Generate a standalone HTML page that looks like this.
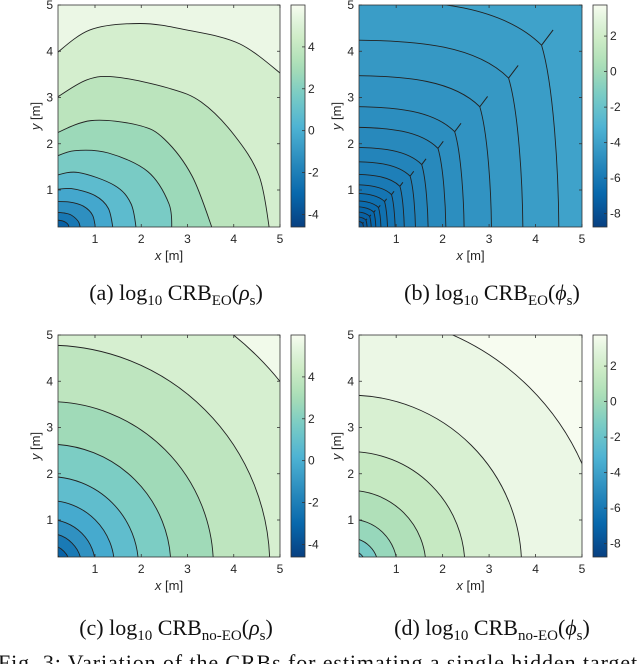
<!DOCTYPE html>
<html><head><meta charset="utf-8">
<style>
html,body{margin:0;padding:0;background:#fff;}
#wrap{position:relative;width:640px;height:664px;overflow:hidden;}
svg{position:absolute;left:0;top:0;}
.cap{position:absolute;font-family:"Liberation Serif",serif;font-size:22px;color:#111;white-space:nowrap;transform:translateX(-50%);}
.cap sub{font-size:15px;vertical-align:-5px;line-height:0;}
.fig{position:absolute;left:-2px;top:650px;font-family:"Liberation Serif",serif;font-size:22px;letter-spacing:0.9px;color:#111;white-space:nowrap;}
</style></head>
<body>
<div id="wrap">
<svg id="svg" width="640" height="664" viewBox="0 0 640 664"></svg>
<div class="cap" style="left:176px;top:280px">(a) log<sub>10</sub> CRB<sub>EO</sub>(<i>ρ</i><sub>s</sub>)</div>
<div class="cap" style="left:492px;top:280px">(b) log<sub>10</sub> CRB<sub>EO</sub>(<i>ϕ</i><sub>s</sub>)</div>
<div class="cap" style="left:176px;top:615px">(c) log<sub>10</sub> CRB<sub>no-EO</sub>(<i>ρ</i><sub>s</sub>)</div>
<div class="cap" style="left:492px;top:615px">(d) log<sub>10</sub> CRB<sub>no-EO</sub>(<i>ϕ</i><sub>s</sub>)</div>
<div class="fig">Fig. 3: Variation of the CRBs for estimating a single hidden target</div>
</div>
<script>
// ---- data ----
const axisTicks = [1, 2, 3, 4, 5];
const cbTicksRho = [-4, -2, 0, 2, 4];
const cbTicksPhi = [-8, -6, -4, -2, 0, 2];
const cbRangeRho = [-4.6, 6.0];
const cbRangePhi = [-8.75, 3.75];
// panel a: contour levels and traced points
const aLevels = [5, 4, 3, 2, 1, 0, -1, -2, -3];
const aX = [
 [0.1,0.89,1.97,2.98,4.13,5.1],
 [0.1,0.82,1.47,2.6,3.3,4.0,4.55,4.78],
 [0.1,0.91,1.94,2.5,3.1,3.56],
 [0.1,0.56,1.29,2.14,2.6,2.66],
 [0.1,0.63,1.42,1.78,1.9],
 [0.1,0.49,1.0,1.29,1.4],
 [0.1,0.45,0.75,0.95,1.02],
 [0.1,0.35,0.5,0.65,0.69],
 [0.1,0.3,0.42,0.45]];
const aY = [
 [3.9,4.46,4.6,4.46,4.16,3.45],
 [2.95,3.38,3.44,3.2,2.9,2.2,1.3,0.1],
 [2.2,2.5,2.4,2.1,1.3,0.1],
 [1.7,1.85,1.8,1.4,0.7,0.1],
 [1.3,1.38,1.1,0.7,0.1],
 [1.0,1.03,0.88,0.6,0.1],
 [0.75,0.74,0.65,0.45,0.1],
 [0.52,0.5,0.45,0.3,0.1],
 [0.36,0.33,0.25,0.1]];
// panel b: kink distances (on diagonal) and levels
const bKink = [5.0, 4.13, 3.42, 2.8, 2.26, 1.9, 1.55, 1.3, 1.08, 0.9, 0.75, 0.62, 0.52, 0.43, 0.35, 0.28];
const bLevels = [-3.8, -4.05, -4.3, -4.55, -4.8, -5.05, -5.3, -5.55, -5.8, -6.05, -6.3, -6.55, -6.8, -7.05, -7.3, -7.55];
// panel c: circular contour radii and levels
const cRadii = [6.4, 4.78, 3.56, 2.64, 1.94, 1.42, 1.01, 0.71, 0.46, 0.3];
const cLevels = [5.3, 4.3, 3.3, 2.3, 1.3, 0.3, -0.7, -1.7, -2.7, -3.7];
// panel d
const dRadii = [5.47, 3.7, 2.48, 1.64, 1.02, 0.61, 0.35];
const dLevels = [3.8, 2.9, 2.0, 1.1, 0.2, -0.9, -2.0];

// ---- helpers ----
const NS = "http://www.w3.org/2000/svg";
const svg = document.getElementById('svg');
function el(tag, attrs, parent) {
  const e = document.createElementNS(NS, tag);
  for (const k in attrs) e.setAttribute(k, attrs[k]);
  (parent || svg).appendChild(e);
  return e;
}
const stops = [[0,'#084081'],[0.15,'#0868ac'],[0.3,'#2b8cbe'],[0.45,'#4eb3d3'],[0.6,'#7bccc4'],[0.72,'#a8ddb5'],[0.84,'#ccebc5'],[0.93,'#e0f3db'],[1,'#f7fcf0']];
function hex2(h){return [parseInt(h.substr(1,2),16),parseInt(h.substr(3,2),16),parseInt(h.substr(5,2),16)];}
function cmap(t){
  t=Math.max(0,Math.min(1,t));
  for(let i=1;i<stops.length;i++){
    if(t<=stops[i][0]){
      const a=hex2(stops[i-1][1]),b=hex2(stops[i][1]);
      const f=(t-stops[i-1][0])/(stops[i][0]-stops[i-1][0]);
      return 'rgb('+a.map((v,j)=>Math.round(v+(b[j]-v)*f)).join(',')+')';
    }
  }
  return stops[stops.length-1][1];
}
function makePanel(id, px0, px1, py0, py1, cx0, cx1, cbRange, cbTicks) {
  const sx = v => px0 + (v - 0.2) / 4.8 * (px1 - px0);
  const sy = v => py1 - (v - 0.2) / 4.8 * (py1 - py0);
  const col = v => cmap((v - cbRange[0]) / (cbRange[1] - cbRange[0]));
  const g = el('g', {});
  
  
  const cp = el('clipPath', {id: 'clip' + id}, g);
  el('rect', {x: px0, y: py0, width: px1 - px0, height: py1 - py0}, cp);
  const plot = el('g', {'clip-path': 'url(#clip' + id + ')'}, g);
  
  
  const gid = 'grad' + id;
  const lg = el('linearGradient', {id: gid, x1: 0, y1: 1, x2: 0, y2: 0}, g);
  for (let i = 0; i <= 20; i++) el('stop', {offset: i / 20, 'stop-color': cmap(i / 20)}, lg);
  const cb = el('rect', {x: cx0, y: py0, width: cx1 - cx0, height: py1 - py0, fill: 'url(#' + gid + ')', stroke: '#333', 'stroke-width': 0.8}, g);
  
  
  const cy = v => py1 - (v - cbRange[0]) / (cbRange[1] - cbRange[0]) * (py1 - py0);
  cbTicks.forEach(t => {
    el('line', {x1: cx1 - 3, x2: cx1, y1: cy(t), y2: cy(t), stroke: '#333', 'stroke-width': 0.8}, g);
    const tx = el('text', {x: cx1 + 3, y: cy(t) + 4, 'font-family': 'Liberation Sans, sans-serif', 'font-size': 12, fill: '#262626'}, g);
    tx.textContent = t;
    
    
  });
  axisTicks.forEach(t => {
    el('line', {x1: sx(t), x2: sx(t), y1: py1, y2: py1 - 3, stroke: '#333', 'stroke-width': 0.8}, g);
    el('line', {x1: sx(t), x2: sx(t), y1: py0, y2: py0 + 3, stroke: '#333', 'stroke-width': 0.8}, g);
    el('line', {x1: px0, x2: px0 + 3, y1: sy(t), y2: sy(t), stroke: '#333', 'stroke-width': 0.8}, g);
    el('line', {x1: px1, x2: px1 - 3, y1: sy(t), y2: sy(t), stroke: '#333', 'stroke-width': 0.8}, g);
    const xl = el('text', {x: sx(t), y: py1 + 16, 'text-anchor': 'middle', 'font-family': 'Liberation Sans, sans-serif', 'font-size': 12, fill: '#262626'}, g);
    xl.textContent = t;
    
    
    const yl = el('text', {x: px0 - 5, y: sy(t) + 4, 'text-anchor': 'end', 'font-family': 'Liberation Sans, sans-serif', 'font-size': 12, fill: '#262626'}, g);
    yl.textContent = t;
    
    
  });
  const xt = el('text', {x: (px0 + px1) / 2, y: py1 + 33, 'text-anchor': 'middle', 'font-family': 'Liberation Sans, sans-serif', 'font-size': 13, fill: '#262626'}, g);
  xt.innerHTML = '<tspan font-style="italic">x</tspan> [m]';
  
  
  const ymid = (py0 + py1) / 2;
  const yt = el('text', {x: px0 - 18, y: ymid, 'text-anchor': 'middle', transform: 'rotate(-90 ' + (px0 - 18) + ' ' + ymid + ')', 'font-family': 'Liberation Sans, sans-serif', 'font-size': 13, fill: '#262626'}, g);
  yt.innerHTML = '<tspan font-style="italic">y</tspan> [m]';
  
  
  return {g, plot, sx, sy, col, box: () => el('rect', {x: px0, y: py0, width: px1 - px0, height: py1 - py0, fill: 'none', stroke: '#333', 'stroke-width': 0.8}, g)};
}
function crPath(pts) {
  let d = 'M' + pts[0][0] + ',' + pts[0][1];
  for (let i = 0; i < pts.length - 1; i++) {
    const p0 = pts[Math.max(0, i - 1)], p1 = pts[i], p2 = pts[i + 1], p3 = pts[Math.min(pts.length - 1, i + 2)];
    const c1 = [p1[0] + (p2[0] - p0[0]) / 6, p1[1] + (p2[1] - p0[1]) / 6];
    const c2 = [p2[0] - (p3[0] - p1[0]) / 6, p2[1] - (p3[1] - p1[1]) / 6];
    d += 'C' + c1 + ' ' + c2 + ' ' + p2;
  }
  return d;
}

// ---- panel a ----
(function(){
  const P = makePanel('a', 58, 280, 5, 227, 291, 305, cbRangeRho, cbTicksRho);
  el('rect', {x: 50, y: 0, width: 240, height: 240, fill: P.col(aLevels[0] + 0.6)}, P.plot);
  aLevels.forEach((lv, i) => {
    const pts = aX[i].map((x, j) => [P.sx(x), P.sy(aY[i][j])]);
    const o = [P.sx(0), P.sy(0)];
    const path = el('path', {d: crPath(pts) + 'L' + P.sx(aX[i][aX[i].length-1]) + ',' + o[1] + 'L' + o[0] + ',' + o[1] + 'Z', fill: P.col(lv - 0.3), stroke: 'none'}, P.plot);
    
    
    const line = el('path', {d: crPath(pts), fill: 'none', stroke: '#222', 'stroke-width': 0.9}, P.plot);
    
    
  });
  P.box();
})();

// ---- panel b ----
(function(){
  const P = makePanel('b', 359, 582, 5, 227, 593, 607, cbRangePhi, cbTicksPhi);
  el('rect', {x: 350, y: 0, width: 240, height: 240, fill: P.col(bLevels[0] + 0.2)}, P.plot);
  bKink.forEach((k, i) => {
    const xi = 1.09 * k, yi = 1.24 * k;
    const f = (x, y) => P.sx(x) + ',' + P.sy(y);
    const d = 'M' + f(xi, 0) + 'C' + f(xi, 0.35 * k) + ' ' + f(1.06 * k, 0.8 * k) + ' ' + f(k, k) +
              'C' + f(0.8 * k, 1.2 * k) + ' ' + f(0.45 * k, yi) + ' ' + f(0, yi);
    const band = el('path', {d: d + 'L' + f(0, 0) + 'Z', fill: P.col(bLevels[i] - 0.125), stroke: 'none'}, P.plot);
    
    
    const line = el('path', {d: d, fill: 'none', stroke: '#222', 'stroke-width': 0.9}, P.plot);
    
    
    const sp = el('line', {x1: P.sx(k), y1: P.sy(k), x2: P.sx(k * 1.06), y2: P.sy(k * 1.08), stroke: '#222', 'stroke-width': 1}, P.plot);
    
    
  });
  P.box();
})();

// ---- panels c, d ----
function circlePanel(id, py0, py1, px0, px1, cx0, cx1, range, ticks, radii, levels, step) {
  const P = makePanel(id, px0, px1, py0, py1, cx0, cx1, range, ticks);
  el('rect', {x: px0 - 10, y: py0 - 10, width: 250, height: 250, fill: P.col(levels[0] + step / 2)}, P.plot);
  radii.forEach((r, i) => {
    const rx = P.sx(r) - P.sx(0), ry = P.sy(0) - P.sy(r);
    const o = [P.sx(0), P.sy(0)];
    const d = 'M' + (o[0] + rx) + ',' + o[1] + 'A' + rx + ',' + ry + ' 0 0 0 ' + o[0] + ',' + (o[1] - ry);
    const band = el('path', {d: d + 'L' + o[0] + ',' + o[1] + 'Z', fill: P.col(levels[i] - step / 2), stroke: 'none'}, P.plot);
    
    
    const line = el('path', {d: d, fill: 'none', stroke: '#222', 'stroke-width': 0.9}, P.plot);
    
    
  });
  P.box();
}
circlePanel('c', 335, 557, 58, 280, 291, 305, cbRangeRho, cbTicksRho, cRadii, cLevels, 1);
circlePanel('d', 335, 557, 359, 582, 593, 607, cbRangePhi, cbTicksPhi, dRadii, dLevels, 1);
</script>
</body></html>
